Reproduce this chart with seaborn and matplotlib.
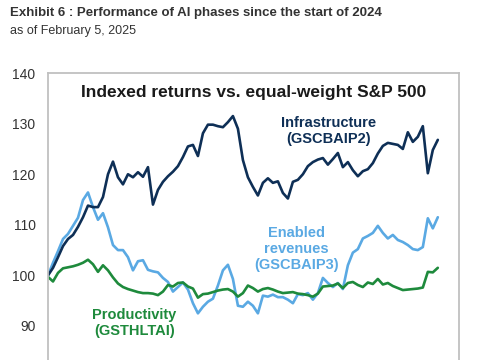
import matplotlib
matplotlib.use("Agg")
import matplotlib.pyplot as plt
import pandas as pd
import seaborn as sns

# indexed values (start of 2024 = 100)
infrastructure = [100, 101.5, 103.6, 105.8, 107.2, 108, 109.6, 111.5, 113.8, 113.5,
                  113.5, 115.5, 120, 122.5, 119.4, 118, 120, 119.4, 120.4, 119.5,
                  121.4, 114, 116.9, 118.5, 119.6, 120.5, 121.6, 123.4, 125.5, 125.8,
                  123.6, 128.1, 129.8, 129.8, 129.5, 129.3, 130.3, 131.5, 129, 122.8,
                  119.4, 117.5, 115.8, 118.3, 119.2, 118.3, 118.6, 116.3, 115.2, 118.5,
                  118.9, 120, 121.6, 122.4, 122.9, 123.2, 121.9, 123, 124.2, 121.4,
                  122.4, 120.8, 119.6, 120.6, 121, 122.2, 124.1, 125.6, 126.2, 126,
                  125.8, 125, 128.3, 126.4, 127.4, 129.5, 120.2, 124.8, 126.8]
enabled = [100, 102.5, 104.8, 107.2, 108.2, 109.8, 111.4, 114.9, 116.4, 113.5,
           111, 112.3, 109.5, 106, 105, 105, 103.6, 101, 102.8, 103,
           101.1, 100.8, 100.6, 99.5, 98.7, 96.8, 97.7, 98.6, 97.2, 94.5,
           92.5, 93.8, 94.8, 95.4, 98, 101, 102.1, 99.3, 94, 93.8,
           94.8, 94, 92.5, 96, 95.8, 96.2, 95.7, 95.7, 95.2, 94.5,
           96.3, 96.1, 96.5, 95.2, 96.5, 99.5, 98.5, 97.7, 98.5, 97.3,
           102, 104.5, 105.2, 107.3, 107.8, 108.4, 109.8, 108.4, 107.3, 108,
           107, 106.6, 106, 105.2, 105, 105.6, 111.3, 109.3, 111.5]
productivity = [99.7, 98.8, 100.5, 101.4, 101.6, 101.8, 102.1, 102.5, 103.1, 102.2,
                100.7, 102, 101, 99.6, 98.4, 97.7, 97.3, 97, 96.7, 96.5,
                96.5, 96.4, 96.1, 96.8, 98.1, 97.8, 98.5, 98.6, 97.8, 97.4,
                95.6, 96.3, 96.4, 96.7, 97, 97.2, 97.3, 96.8, 95.8, 96.5,
                98, 97.5, 96.8, 97.3, 97.5, 97.2, 96.8, 96.5, 96.6, 96.7,
                96.4, 96.3, 96.1, 95.8, 96.4, 97.8, 97.9, 98, 98.4, 97.5,
                98.5, 98.7, 98.1, 97.7, 98.6, 98.3, 99.3, 98.2, 98.5, 97.9,
                97.5, 97.1, 97.2, 97.3, 97.4, 97.6, 100.7, 100.6, 101.5]
y_ticks = [90, 100, 110, 120, 130, 140]

dates = pd.date_range("2024-01-02", "2025-02-05", periods=len(infrastructure))
df = pd.DataFrame({"date": dates, "infra": infrastructure,
                   "enabled": enabled, "prod": productivity})

sns.set_style("white")
plt.rcParams["font.family"] = ["Liberation Sans", "DejaVu Sans"]

navy = "#0e2f56"
light = "#5aa9e3"
green = "#1e8a3c"

fig = plt.figure(figsize=(4.85, 3.6), dpi=100)
ax = fig.add_axes([0.099, -0.046, 0.847, 0.843])

sns.lineplot(data=df, x="date", y="enabled", color=light, lw=1.9, ax=ax)
sns.lineplot(data=df, x="date", y="infra", color=navy, lw=1.9, ax=ax)
sns.lineplot(data=df, x="date", y="prod", color=green, lw=1.9, ax=ax)

span = dates[-1] - dates[0]
ax.set_xlim(dates[0], dates[-1] + span * (21 / 390))
ax.set_ylim(80, 140)
ax.set_yticks(y_ticks)
ax.set_xticks([])
ax.set_xlabel("")
ax.set_ylabel("")
ax.tick_params(axis="y", length=0, pad=9, labelsize=10, labelcolor="#333333")
for s in ax.spines.values():
    s.set_color("#c0c0c0")
    s.set_linewidth(1.3)

ax.text(0.5, 0.935, "Indexed returns vs. equal-weight S&P 500", transform=ax.transAxes,
        ha="center", va="center", fontsize=12.5, fontweight="bold", color="#1a1a1a")
ax.text(0.682, 0.81, "Infrastructure\n(GSCBAIP2)", transform=ax.transAxes,
        ha="center", va="center", fontsize=10.5, fontweight="bold", color=navy,
        linespacing=1.15)
ax.text(0.605, 0.42, "Enabled\nrevenues\n(GSCBAIP3)", transform=ax.transAxes,
        ha="center", va="center", fontsize=10.5, fontweight="bold", color=light,
        linespacing=1.15)
ax.text(0.21, 0.177, "Productivity\n(GSTHLTAI)", transform=ax.transAxes,
        ha="center", va="center", fontsize=10.5, fontweight="bold", color=green,
        linespacing=1.15)

fig.text(0.021, 0.965, "Exhibit 6 : Performance of AI phases since the start of 2024",
         ha="left", va="center", fontsize=9.5, fontweight="bold", color="#333333")
fig.text(0.021, 0.913, "as of February 5, 2025",
         ha="left", va="center", fontsize=9, color="#333333")

fig.savefig("out.png", dpi=100)
